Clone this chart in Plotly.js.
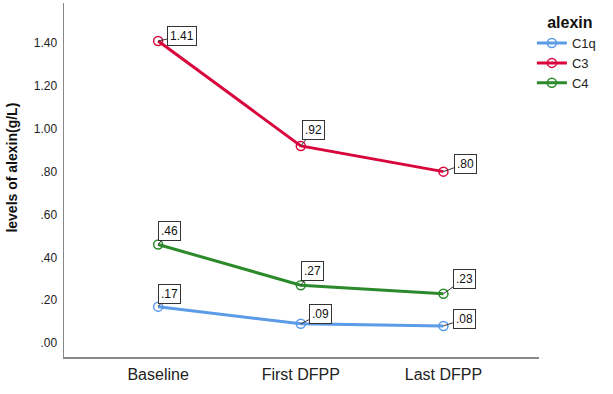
<!DOCTYPE html>
<html><head><meta charset="utf-8">
<script src="https://cdn.plot.ly/plotly-3.0.1.min.js"></script>
<style>html,body{margin:0;padding:0;background:#fff}#chart{width:613px;height:394px}</style>
</head><body><div id="chart"></div>
<script>
const categories = ["Baseline", "First DFPP", "Last DFPP"];
const seriesNames = ["C1q", "C3", "C4"];
const c1q = [0.17, 0.09, 0.08];
const c3 = [1.41, 0.92, 0.80];
const c4 = [0.46, 0.27, 0.23];
const labelsC1q = [".17", ".09", ".08"];
const labelsC3 = ["1.41", ".92", ".80"];
const labelsC4 = [".46", ".27", ".23"];
const yTickVals = [0, 0.2, 0.4, 0.6, 0.8, 1.0, 1.2, 1.4];
const yTickText = [".00", ".20", ".40", ".60", ".80", "1.00", "1.20", "1.40"];

const FONT = 'Liberation Sans, Arial, sans-serif';
const colors = ["#5b9be8", "#d9063c", "#2c8a2c"];
const values = [c1q, c3, c4];
const labels = [labelsC1q, labelsC3, labelsC4];
const offs = [
  [[11,-13],[20,-10],[21,-7]],
  [[24,-5],[13,-16],[22,-8]],
  [[11,-14],[12,-14],[21,-15]]
];

const traces = values.map((v,i)=>({
  type:'scatter', mode:'lines+markers', name: seriesNames[i],
  x: categories, y: v,
  line:{color:colors[i], width:3},
  marker:{symbol:'circle-open', size:9, color:colors[i], line:{width:1.5, color:colors[i]}}
}));

const annotations = [];
values.forEach((v,i)=>{
  v.forEach((val,j)=>{
    annotations.push({
      x: categories[j], y: val, xref:'x', yref:'y',
      text: labels[i][j], showarrow:true, arrowhead:0, arrowwidth:1, arrowcolor:'#333',
      ax: offs[i][j][0], ay: offs[i][j][1], standoff:0, startstandoff:0,
      bordercolor:'#333', borderwidth:1, borderpad:2, bgcolor:'#fff',
      font:{family:FONT, size:12, color:'#111'}
    });
  });
});
annotations.push({
  xref:'paper', yref:'paper', x:-0.1095, y:0.535, xanchor:'center', yanchor:'middle',
  text:'<b>levels of alexin(g/L)</b>', textangle:-90, showarrow:false,
  font:{family:FONT, size:14, color:'#111'}
});

const layout = {
  width:613, height:394,
  margin:{l:64, r:74, t:3, b:37},
  paper_bgcolor:'#fff', plot_bgcolor:'#fff',
  font:{family:FONT, size:12, color:'#222'},
  showlegend:true,
  legend:{x:0.985, xanchor:'left', y:0.988, yanchor:'top', title:{text:'&nbsp;&nbsp;&nbsp;<b>alexin</b>', font:{size:16, color:'#111'}}, font:{size:13, color:'#222'}, tracegroupgap:0},
  xaxis:{type:'category', range:[-0.66, 2.67], showline:true, linecolor:'#888', linewidth:1.5, showgrid:false, zeroline:false, ticks:'', tickfont:{size:16, color:'#222'}, ticklabelstandoff:2, fixedrange:true},
  yaxis:{range:[-0.065, 1.587], showline:true, linecolor:'#888', linewidth:1.5, showgrid:false, zeroline:false, ticks:'', tickvals:yTickVals, ticktext:yTickText, tickfont:{size:12, color:'#222'}, ticklabelstandoff:3, automargin:false},
  annotations: annotations
};
Plotly.newPlot('chart', traces, layout, {displayModeBar:false, staticPlot:true});
</script></body></html>
